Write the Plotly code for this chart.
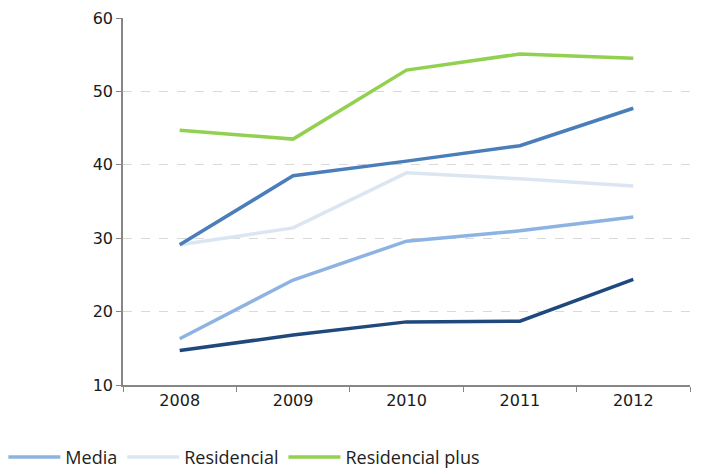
import plotly.graph_objects as go

years = ["2008", "2009", "2010", "2011", "2012"]
navy = [14.7, 16.8, 18.6, 18.7, 24.4]
media = [16.3, 24.3, 29.6, 31.0, 32.9]
residencial = [29.1, 31.4, 38.9, 38.1, 37.1]
mid_blue = [29.1, 38.5, 40.5, 42.6, 47.7]
residencial_plus = [44.7, 43.5, 52.9, 55.1, 54.5]

fig = go.Figure()
series = [
    ("Media", media, "#8db3e2", True),
    ("Residencial", residencial, "#dce6f2", True),
    ("Residencial plus", residencial_plus, "#92d050", True),
    ("Serie 4", mid_blue, "#4a7ebb", False),
    ("Serie 5", navy, "#1f497d", False),
]
for name, vals, color, show in series:
    fig.add_trace(go.Scatter(x=years, y=vals, mode="lines", name=name,
                             line=dict(color=color, width=3.5),
                             showlegend=show))

fig.update_layout(
    width=705, height=471,
    margin=dict(l=123, r=15, t=18, b=86, autoexpand=False),
    paper_bgcolor="white", plot_bgcolor="white",
    font=dict(family="DejaVu Sans", color="#1a1a1a", size=16),
    legend=dict(orientation="h", x=-0.211, xanchor="left", y=-0.197, yanchor="middle",
                font=dict(family="Open Sans", size=18, color="#222"),
                itemwidth=52, tracegroupgap=0),
)
fig.update_xaxes(type="category", showline=True, linecolor="#868686", linewidth=1.5,
                 ticks="outside", tickson="boundaries", ticklen=5, tickcolor="#868686",
                 showgrid=False, tickfont=dict(size=16), range=[-0.5, 4.5])
fig.update_yaxes(range=[10, 60], dtick=10, showline=True, linecolor="#868686", linewidth=1.5,
                 ticks="outside", ticklen=5, tickcolor="#868686",
                 showgrid=True, gridcolor="#d9d9d9", griddash="dash", gridwidth=1,
                 zeroline=False, tickfont=dict(size=16))

fig.write_html("out.html")
